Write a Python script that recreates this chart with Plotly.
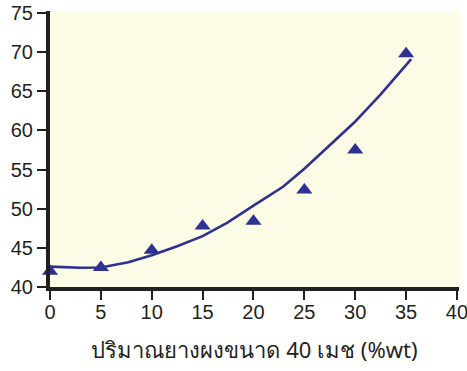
import plotly.graph_objects as go

# Measured data: rubber powder content (40 mesh, %wt) vs property
x_meas = [0, 5, 10, 15, 20, 25, 30, 35]
y_meas = [42.0, 42.5, 44.7, 47.8, 48.4, 52.4, 57.5, 69.8]

# Fitted trend curve
x_fit = [0, 3, 5, 7.7, 10, 12.5, 15, 17.4, 20, 22.9, 25, 27.5, 29.9, 32.5, 35.5]
y_fit = [42.6, 42.45, 42.5, 43.15, 44.05, 45.2, 46.5, 48.2, 50.4, 52.8, 55.1, 58.1, 61.0, 64.6, 69.1]

x_ticks = [0, 5, 10, 15, 20, 25, 30, 35, 40]
y_ticks = [40, 45, 50, 55, 60, 65, 70, 75]
x_title = "ปริมาณยางผงขนาด 40 เมช (%wt)"

navy = "#2E3192"
ink = "#231F20"

fig = go.Figure()
fig.add_trace(go.Scatter(
    x=x_fit, y=y_fit, mode="lines",
    line=dict(color=navy, width=2.6), hoverinfo="skip",
))
fig.add_trace(go.Scatter(
    x=x_meas, y=y_meas, mode="markers", cliponaxis=False,
    marker=dict(symbol="triangle-up", size=14, color=navy),
))

axis_font = dict(family="Liberation Sans, Arial, sans-serif", size=20, color=ink)

fig.update_layout(
    width=467, height=371,
    margin=dict(l=50, r=8, t=11, b=84),
    paper_bgcolor="white",
    plot_bgcolor="#FBFBE6",
    showlegend=False,
    xaxis=dict(
        range=[0, 40.2], tickvals=x_ticks, ticktext=[str(v) for v in x_ticks],
        showgrid=False, zeroline=False, automargin=False,
        showline=True, linecolor=ink, linewidth=4,
        ticks="outside", ticklen=9, tickwidth=2, tickcolor=ink,
        tickfont=axis_font, ticklabeloverflow="allow", ticklabelstandoff=-5,
        title=dict(text=x_title, font=dict(family="Noto Sans, Liberation Sans, sans-serif", size=22, color=ink), standoff=22),
    ),
    yaxis=dict(
        range=[40, 75.25], tickvals=y_ticks, ticktext=[str(v) for v in y_ticks],
        showgrid=False, zeroline=False, automargin=False,
        showline=True, linecolor=ink, linewidth=4,
        ticks="outside", ticklen=9, tickwidth=2, tickcolor=ink,
        tickfont=axis_font, ticklabeloverflow="allow",
    ),
)

fig.write_html("out.html")
